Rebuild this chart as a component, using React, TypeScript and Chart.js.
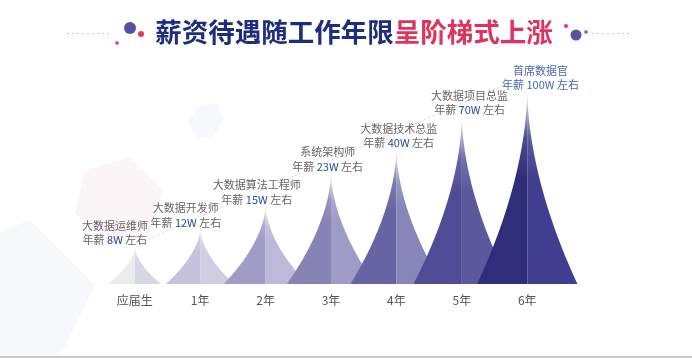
import React, { useEffect, useRef } from "react";
import { Chart, registerables } from "chart.js";

Chart.register(...registerables);

const categories = ["应届生", "1年", "2年", "3年", "4年", "5年", "6年"];
const roles = ["大数据运维师", "大数据开发师", "大数据算法工程师", "系统架构师", "大数据技术总监", "大数据项目总监", "首席数据官"];
const salaries = ["8W", "12W", "15W", "23W", "40W", "70W", "100W"];
const spikeHeights = [20, 29, 41, 58, 70, 87, 100];
const leftColors = ["#ececec", "#c6c2dc", "#a19cc6", "#8683b5", "#6764a3", "#4f4c95", "#302d7a"];
const rightColors = ["#d5d8e2", "#d0cde3", "#bdb9da", "#9e9bc6", "#8785b9", "#5b589e", "#403e8e"];
const titleMain = "薪资待遇随工作年限";
const titleAccent = "呈阶梯式上涨";

const FONT = '"Noto Sans CJK SC", "Noto Sans", sans-serif';

function rgba(hex: string, a: number) {
  const n = parseInt(hex.slice(1), 16);
  return `rgba(${(n >> 16) & 255},${(n >> 8) & 255},${n & 255},${a})`;
}

function poly(ctx: CanvasRenderingContext2D, pts: number[][], color: string) {
  ctx.beginPath();
  ctx.moveTo(pts[0][0], pts[0][1]);
  for (let i = 1; i < pts.length; i++) ctx.lineTo(pts[i][0], pts[i][1]);
  ctx.closePath();
  ctx.fillStyle = color;
  ctx.fill();
}

function dot(ctx: CanvasRenderingContext2D, x: number, y: number, r: number, c: string) {
  ctx.beginPath();
  ctx.arc(x, y, r, 0, Math.PI * 2);
  ctx.fillStyle = c;
  ctx.fill();
}

const decorPlugin = {
  id: "decor",
  beforeDraw(chart: any) {
    const ctx: CanvasRenderingContext2D = chart.ctx;
    ctx.save();
    ctx.fillStyle = "#ffffff";
    ctx.fillRect(0, 0, chart.width, chart.height);
    // background shapes
    poly(ctx, [[0, 232], [30, 220], [95, 285], [60, 356], [0, 356]], "#f7f8fc");
    poly(ctx, [[85, 170], [130, 158], [163, 190], [152, 233], [110, 247], [75, 213]], "#fcf5f8");
    poly(ctx, [[188, 122], [200, 105], [217, 103], [224, 118], [213, 137], [197, 139]], "#f7f8fd");
    // bottom line
    ctx.fillStyle = "#c8c8c8";
    ctx.fillRect(0, 356, chart.width, 2);
    // title
    ctx.font = `bold 26.5px ${FONT}`;
    ctx.textBaseline = "middle";
    ctx.textAlign = "left";
    const w1 = ctx.measureText(titleMain).width;
    const w2 = ctx.measureText(titleAccent).width;
    const cx = 354;
    const sx = cx - (w1 + w2) / 2;
    ctx.fillStyle = "#1e2d7d";
    ctx.fillText(titleMain, sx, 32);
    ctx.fillStyle = "#e0325f";
    ctx.fillText(titleAccent, sx + w1, 32);
    // dotted lines
    ctx.strokeStyle = "#cfcfcf";
    ctx.lineWidth = 1;
    ctx.setLineDash([2, 3]);
    ctx.beginPath();
    ctx.moveTo(67, 33.5);
    ctx.lineTo(110, 33.5);
    ctx.moveTo(592, 33.5);
    ctx.lineTo(632, 33.5);
    ctx.stroke();
    ctx.setLineDash([]);
    // dots
    dot(ctx, 117, 43, 1.8, "#e8366a");
    dot(ctx, 130, 28, 6, "#5a4fa6");
    dot(ctx, 141, 34, 3, "#e8366a");
    dot(ctx, 566, 26, 2, "#e8366a");
    dot(ctx, 576, 35, 5.5, "#5a4fa6");
    dot(ctx, 586, 32, 1.8, "#e8366a");
    ctx.restore();
  },
};

const spikesPlugin = {
  id: "spikes",
  afterDatasetsDraw(chart: any) {
    const ctx: CanvasRenderingContext2D = chart.ctx;
    const meta = chart.getDatasetMeta(0);
    const els = meta.data;
    ctx.save();
    // faint dashed guide connecting peaks
    const first = els[0];
    const last = els[els.length - 1];
    ctx.strokeStyle = "#dedede";
    ctx.lineWidth = 1;
    ctx.setLineDash([3, 2]);
    ctx.beginPath();
    ctx.moveTo(first.x + 4, first.y - 2);
    ctx.lineTo(last.x - 20, last.y - 6);
    ctx.stroke();
    ctx.setLineDash([]);

    els.forEach((el: any, i: number) => {
      const x = el.x;
      const top = el.y;
      const base = el.base;
      const H = base - top;
      const hw = Math.min(0.45 * H + 9, 36 + 0.073 * H);
      const N = 40;
      const p = 1.8;
      const leftPts: number[][] = [];
      const rightPts: number[][] = [];
      for (let k = 0; k <= N; k++) {
        const h = k / N;
        const w = hw * Math.pow(1 - h, p);
        leftPts.push([x - w, base - h * H]);
        rightPts.push([x + w, base - h * H]);
      }
      const mkGrad = (c: string) => {
        const g = ctx.createLinearGradient(0, top, 0, base);
        g.addColorStop(0, rgba(c, 0.1));
        g.addColorStop(0.25, rgba(c, 0.85));
        g.addColorStop(0.45, rgba(c, 1));
        g.addColorStop(1, rgba(c, 1));
        return g;
      };
      ctx.beginPath();
      leftPts.forEach((pt, k) => (k === 0 ? ctx.moveTo(pt[0], pt[1]) : ctx.lineTo(pt[0], pt[1])));
      ctx.lineTo(x, base);
      ctx.closePath();
      ctx.fillStyle = mkGrad(leftColors[i]);
      ctx.fill();
      ctx.beginPath();
      rightPts.forEach((pt, k) => (k === 0 ? ctx.moveTo(pt[0], pt[1]) : ctx.lineTo(pt[0], pt[1])));
      ctx.lineTo(x, base);
      ctx.closePath();
      ctx.fillStyle = mkGrad(rightColors[i]);
      ctx.fill();
    });

    // labels
    ctx.font = `11px ${FONT}`;
    ctx.textBaseline = "middle";
    els.forEach((el: any, i: number) => {
      const lx = el.x + 5.5 * (i - 3.6);
      const isLast = i === els.length - 1;
      const gray = "#666666";
      const blue = "#2a4a9e";
      const lastBlue = "#4a67b3";
      ctx.textAlign = "center";
      ctx.fillStyle = isLast ? lastBlue : gray;
      ctx.fillText(roles[i], lx, el.y - 19.5);
      const a = "年薪 ";
      const b = salaries[i];
      const c = " 左右";
      const wa = ctx.measureText(a).width;
      const wb = ctx.measureText(b).width;
      const wc = ctx.measureText(c).width;
      let sx = lx - (wa + wb + wc) / 2;
      ctx.textAlign = "left";
      ctx.fillStyle = isLast ? lastBlue : gray;
      ctx.fillText(a, sx, el.y - 5);
      sx += wa;
      ctx.fillStyle = isLast ? lastBlue : blue;
      ctx.fillText(b, sx, el.y - 5);
      sx += wb;
      ctx.fillStyle = isLast ? lastBlue : gray;
      ctx.fillText(c, sx, el.y - 5);
    });
    ctx.restore();
  },
};

export default function App() {
  const ref = useRef<HTMLCanvasElement | null>(null);
  useEffect(() => {
    if (!ref.current) return;
    const chart = new Chart(ref.current, {
      type: "bar",
      data: {
        labels: categories,
        datasets: [
          {
            data: spikeHeights,
            backgroundColor: "rgba(0,0,0,0)",
            borderWidth: 0,
          },
        ],
      },
      options: {
        responsive: false,
        animation: false,
        layout: { padding: { left: 102, right: 132, top: 90, bottom: 41.6 } },
        plugins: {
          legend: { display: false },
          tooltip: { enabled: false },
          title: { display: false },
        },
        scales: {
          x: {
            grid: { display: false, drawTicks: false },
            border: { display: false },
            ticks: { color: "#555555", font: { family: FONT, size: 12 }, padding: 9 },
          },
          y: { display: false, min: 0, max: 100 },
        },
      },
      plugins: [decorPlugin, spikesPlugin],
    } as any);
    return () => chart.destroy();
  }, []);
  return (
    <div style={{ position: "fixed", left: 0, top: 0, width: 692, height: 358 }}>
      <canvas ref={ref} width={692} height={358} style={{ width: 692, height: 358, display: "block" }} />
    </div>
  );
}
